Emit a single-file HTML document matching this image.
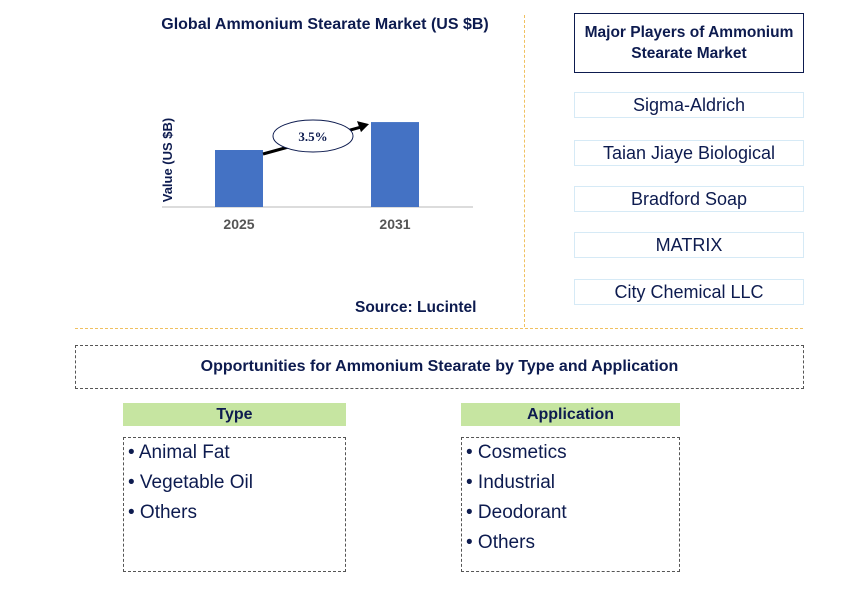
<!DOCTYPE html>
<html><head><meta charset="utf-8"><style>
body{margin:0;width:868px;height:612px;background:#fff;font-family:"Liberation Sans",Arial,sans-serif;position:relative;overflow:hidden}
.a{position:absolute;box-sizing:border-box}
.pl{border:1.5px solid #d6eaf6;color:#0d1b4f;font-size:18px;text-align:center;line-height:25px;left:574px;width:230px;height:26px}
.hd{background:#c6e5a1;color:#0d1b4f;font-weight:bold;font-size:16px;text-align:center;line-height:23px;height:23px}
.ls{border:1px dashed #555;color:#0d1b4f;font-size:19px;padding:0 0 0 4px;line-height:30px}
</style></head><body>
<div class="a" style="left:140px;top:16px;width:370px;text-align:center;font-weight:bold;font-size:16px;color:#0d1b4f">Global Ammonium Stearate Market (US $B)</div>
<svg class="a" style="left:0;top:0" width="520" height="320" id="ch"></svg>
<div class="a" style="left:355px;top:299px;font-weight:bold;font-size:15.5px;color:#0d1b4f">Source: Lucintel</div>
<div class="a" style="left:524px;top:15px;height:312px;border-left:1px dashed #f0c060"></div>
<div class="a" style="left:75px;top:328px;width:728px;border-top:1px dashed #f0c060"></div>
<div class="a" style="left:574px;top:13px;width:230px;height:60px;border:1.5px solid #0d1b4f;color:#0d1b4f;font-weight:bold;font-size:15.5px;text-align:center;padding-top:8px;line-height:21px">Major Players of Ammonium Stearate Market</div>
<div class="a pl" style="top:92px">Sigma-Aldrich</div>
<div class="a pl" style="top:140px">Taian Jiaye Biological</div>
<div class="a pl" style="top:186px">Bradford Soap</div>
<div class="a pl" style="top:232px">MATRIX</div>
<div class="a pl" style="top:279px">City Chemical LLC</div>
<div class="a" style="left:75px;top:345px;width:729px;height:44px;border:1px dashed #555;text-align:center;line-height:42px;font-weight:bold;font-size:16px;color:#0d1b4f">Opportunities for Ammonium Stearate by Type and Application</div>
<div class="a hd" style="left:123px;top:403px;width:223px">Type</div>
<div class="a ls" style="left:123px;top:437px;width:223px;height:135px">• Animal Fat<br>• Vegetable Oil<br>• Others</div>
<div class="a hd" style="left:461px;top:403px;width:219px">Application</div>
<div class="a ls" style="left:461px;top:437px;width:219px;height:135px">• Cosmetics<br>• Industrial<br>• Deodorant<br>• Others</div>
<script>
const categories=["2025","2031"];
const values=[1.0,1.49];
const cagrLabel="3.5%";
const svg=document.getElementById('ch');const NS="http://www.w3.org/2000/svg";
const base=207,scale=57,xs=[239,395],bw=48;
const y=v=>base-v*scale;
function mk(t,a){const e=document.createElementNS(NS,t);for(const k in a)e.setAttribute(k,a[k]);svg.appendChild(e);return e;}
let ax=mk('line',{x1:162,x2:473,y1:base,y2:base,stroke:'#d0d0d0','stroke-width':1.5});


categories.forEach((c,i)=>{
 const r=mk('rect',{x:xs[i]-bw/2,y:y(values[i]),width:bw,height:values[i]*scale,fill:'#4472c4'});
 
 
 const t=mk('text',{x:xs[i],y:229,'text-anchor':'middle','font-weight':'bold','font-size':14,fill:'#555','font-family':'Liberation Sans'});t.textContent=c;
 
 
});
const yt=mk('text',{transform:'translate(172,160) rotate(-90)','text-anchor':'middle','font-weight':'bold','font-size':13,fill:'#0d1b4f','font-family':'Liberation Sans'});yt.textContent='Value (US $B)';


const x1=xs[0]+bw/2,y1=y(values[0])+4,x2=xs[1]-bw/2-2,y2=y(values[1])+2;
const ar=mk('line',{x1:x1,y1:y1,x2:x2-8,y2:y2+3,stroke:'#000','stroke-width':3});


const ah=mk('polygon',{points:`${x2},${y2} ${x2-12},${y2-3} ${x2-8},${y2+8}`,fill:'#000'});


const el=mk('ellipse',{cx:313,cy:136,rx:40,ry:16,fill:'#fff',stroke:'#0d1b4f','stroke-width':1});


const ct=mk('text',{x:313,y:141,'text-anchor':'middle','font-weight':'bold','font-size':13,fill:'#0d1b4f','font-family':'Liberation Serif'});ct.textContent=cagrLabel;


</script>
</body></html>
